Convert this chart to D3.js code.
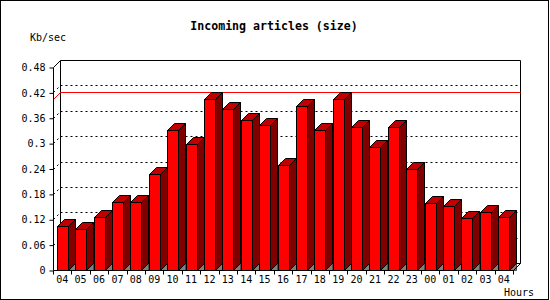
<!DOCTYPE html>
<html>
<head>
<meta charset="utf-8">
<script src="https://cdn.jsdelivr.net/npm/d3@7"></script>
<style>
  body { margin: 0; background: #fff; }
  svg { display: block; }
</style>
</head>
<body>
<div id="chart"></div>
<script>
// datos
const hours = ["04", "05", "06", "07", "08", "09", "10", "11", "12", "13", "14", "15", "16",
               "17", "18", "19", "20", "21", "22", "23", "00", "01", "02", "03", "04"];
const sizeKb = [0.105, 0.098, 0.125, 0.160, 0.160, 0.228, 0.330, 0.299, 0.405, 0.380, 0.354, 0.342, 0.248,
                0.387, 0.332, 0.405, 0.337, 0.290, 0.337, 0.240, 0.158, 0.151, 0.122, 0.137, 0.125];
const yTicks = [0, 0.06, 0.12, 0.18, 0.24, 0.3, 0.36, 0.42, 0.48];

const WIDTH = 550;
const HEIGHT = 300;
const DEPTH = 7;           // desplazamiento 3D
const X0 = 53, X1 = 513;   // eje frontal
const Y0 = 270, Y1 = 67;
const MONO = "'DejaVu Sans Mono', monospace";

const svg = d3.select("#chart").append("svg")
    .attr("width", WIDTH).attr("height", HEIGHT);

svg.append("rect")
    .attr("x", 0.5).attr("y", 0.5)
    .attr("width", WIDTH - 2).attr("height", HEIGHT - 1)
    .attr("fill", "#fff").attr("stroke", "#000");

const x = d3.scaleBand().domain(d3.range(hours.length)).range([X0, X1]);
const y = d3.scaleLinear().domain([0, 0.48]).range([Y0, Y1]);

const line = (x1, y1, x2, y2, color, dash) => {
    const l = svg.append("line")
        .attr("x1", x1).attr("y1", y1).attr("x2", x2).attr("y2", y2)
        .attr("stroke", color || "#000");
    if (dash) l.attr("stroke-dasharray", dash);
    return l;
};

// pared del fondo
const bx0 = X0 + DEPTH + 0.5, bx1 = X1 + DEPTH + 0.5;
const yb = v => Math.round(y(v)) - DEPTH + 0.5;
line(bx0, yb(0.48), bx1, yb(0.48));
line(bx0, yb(0.48), bx0, yb(0));
line(bx1, yb(0.48), bx1, yb(0));
line(bx0, yb(0), bx1, yb(0));
line(X0 + 0.5, Math.round(y(0.48)) + 0.5, bx0, yb(0.48));

// lineas de grilla punteadas
yTicks.filter(d => d > 0 && d < 0.48).forEach(d => {
    line(bx0, yb(d), bx1, yb(d), "#000", "2,3");
    line(X0 + 0.5, Math.round(y(d)) + 0.5, bx0, yb(d), "#000", "2,3");
});

// linea roja del maximo
const maxV = d3.max(sizeKb);
line(X0 + 0.5, Math.round(y(maxV)) + 0.5, bx0, yb(maxV), "#ff0000");
line(bx0, yb(maxV), bx1, yb(maxV), "#ff0000");

// barras 3D
const frontW = 11;
const bars = svg.append("g").selectAll("g")
    .data(sizeKb)
    .join("g");

bars.each(function (v, i) {
    const g = d3.select(this);
    const xl = Math.round(x(i) + 3.7) + 0.5;
    const xr = xl + frontW;
    const yt = Math.round(y(v)) + 0.5;
    const yf = Y0 + 0.5;
    const pts = a => a.map(p => p.join(",")).join(" ");

    g.append("polygon")
        .attr("points", pts([[xr, yf], [xr + DEPTH, yf - DEPTH], [xr + DEPTH, yf]]))
        .attr("fill", "#808080").attr("stroke", "#000").attr("stroke-width", 0.6);
    g.append("polygon")
        .attr("points", pts([[xr, yt], [xr + DEPTH, yt - DEPTH], [xr + DEPTH, yf - DEPTH], [xr, yf]]))
        .attr("fill", "#800000").attr("stroke", "#000");
    g.append("polygon")
        .attr("points", pts([[xl, yt], [xl + DEPTH, yt - DEPTH], [xr + DEPTH, yt - DEPTH], [xr, yt]]))
        .attr("fill", "#c00000").attr("stroke", "#000");
    g.append("rect")
        .attr("x", xl).attr("y", yt)
        .attr("width", frontW).attr("height", yf - yt)
        .attr("fill", "#f00").attr("stroke", "#000");
});

// ejes frontales
line(X0 + 0.5, Math.round(y(0.48)) + 0.5, X0 + 0.5, Y0 + 0.5);
line(X0 + 0.5, Y0 + 0.5, X1 + 0.5, Y0 + 0.5);
line(X1 + 0.5, Y0 + 0.5, bx1, yb(0));

// eje Y
const yAxis = svg.append("g")
    .attr("transform", `translate(${X0 + 0.5},0.5)`)
    .call(d3.axisLeft(y).tickValues(yTicks).tickSize(4).tickSizeOuter(0)
        .tickFormat(d3.format("~g")).tickPadding(4));
yAxis.select(".domain").remove();
yAxis.selectAll("line").attr("stroke", "#000");
yAxis.selectAll("text")
    .attr("fill", "#000")
    .style("font-family", MONO).style("font-size", "10px");

// eje X
d3.range(hours.length + 1).forEach(i => {
    const xt = Math.round(X0 + i * x.bandwidth()) + 0.5;
    line(xt, Y0 + 0.5, xt, Y0 + 4.5);
});
svg.append("g").selectAll("text")
    .data(hours)
    .join("text")
    .attr("x", (d, i) => x(i) + x.bandwidth() / 2)
    .attr("y", 283)
    .attr("text-anchor", "middle")
    .style("font-family", MONO).style("font-size", "10px")
    .text(d => d);

// textos
svg.append("text")
    .attr("x", 274).attr("y", 30)
    .attr("text-anchor", "middle")
    .style("font-family", MONO).style("font-size", "11.6px").style("font-weight", "bold")
    .text("Incoming articles (size)");

svg.append("text")
    .attr("x", 30).attr("y", 41)
    .style("font-family", MONO).style("font-size", "10px")
    .text("Kb/sec");

svg.append("text")
    .attr("x", 534).attr("y", 296)
    .attr("text-anchor", "end")
    .style("font-family", MONO).style("font-size", "10px")
    .text("Hours");
</script>
</body>
</html>
